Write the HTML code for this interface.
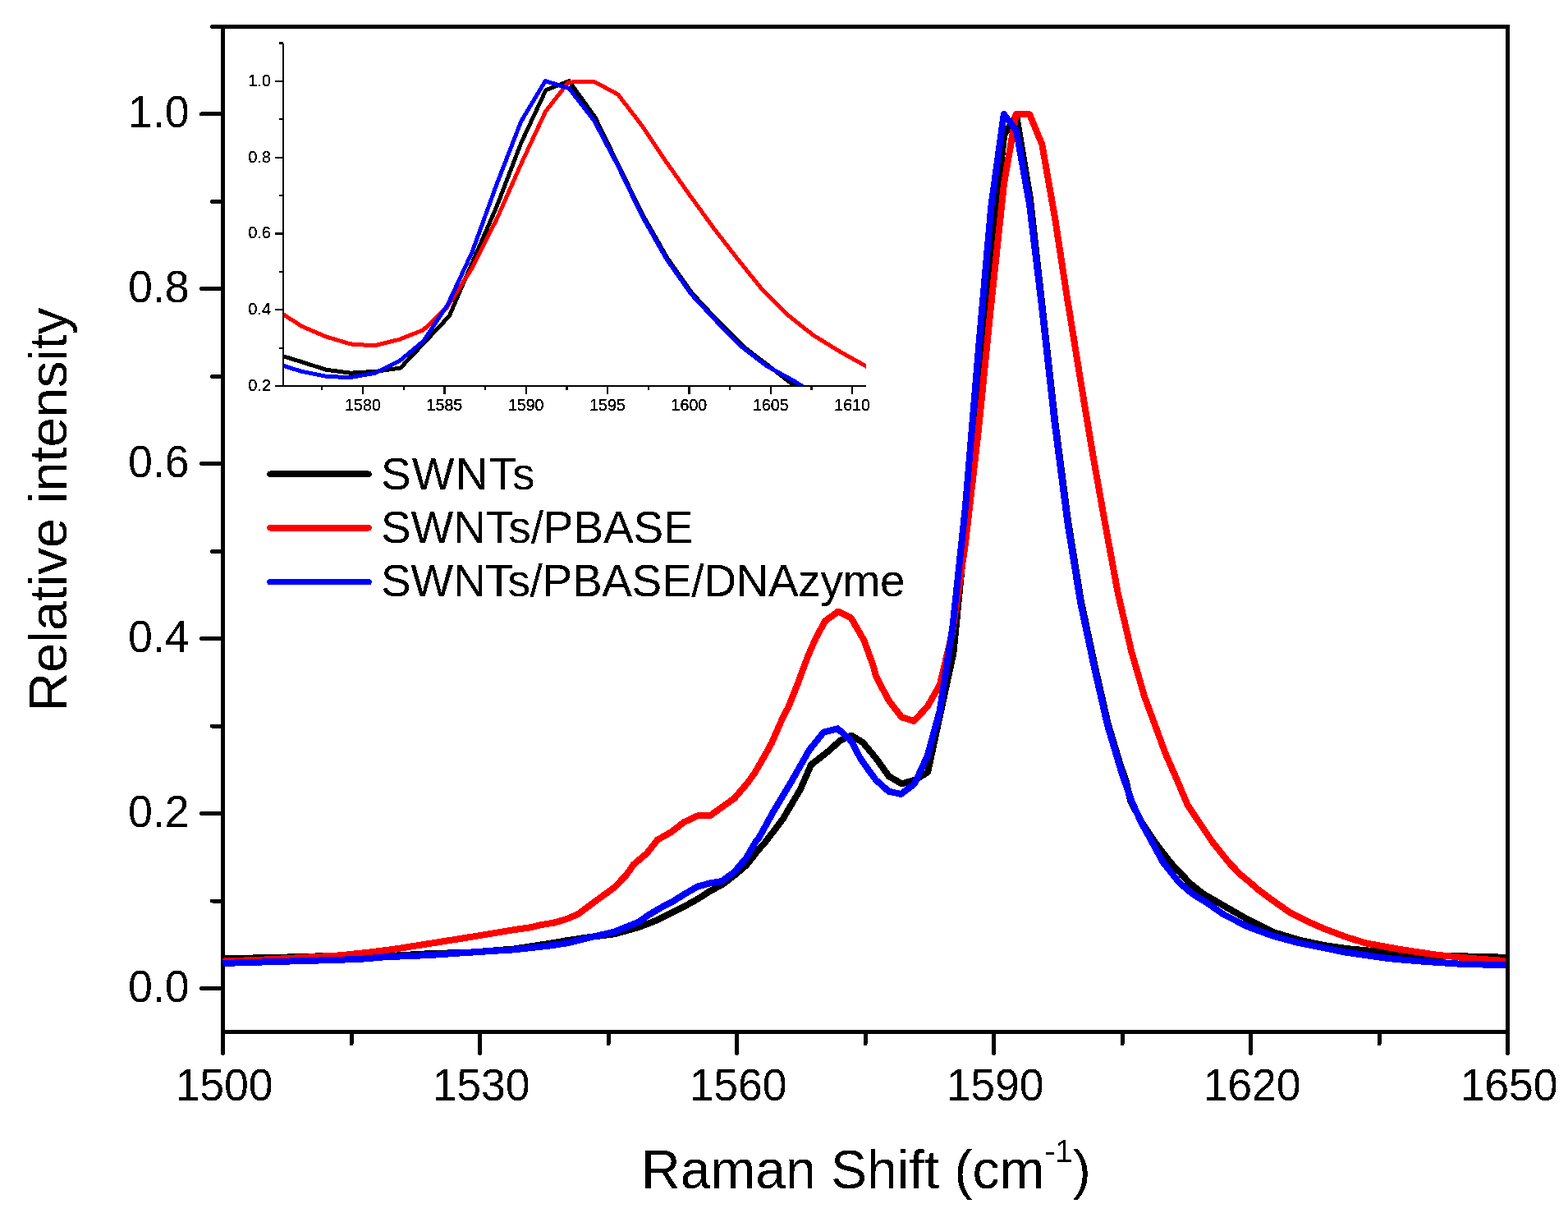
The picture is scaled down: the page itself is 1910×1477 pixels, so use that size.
<!DOCTYPE html>
<html><head><meta charset="utf-8"><title>Raman spectra</title>
<style>html,body{margin:0;padding:0;background:#fff;}svg{display:block;}text{font-family:"Liberation Sans",Arial,Helvetica,sans-serif;fill:#000;filter:url(#crisp);}</style></head><body>
<svg shape-rendering="crispEdges" width="1910" height="1477" viewBox="0 0 1910 1477">
<rect x="0" y="0" width="1910" height="1477" fill="#fff"/>
<defs>
<clipPath id="cm"><rect x="270" y="34.5" width="1564" height="1219.5"/></clipPath>
<clipPath id="ci"><rect x="345.0" y="42.5" width="710.0" height="427.5"/></clipPath>
<filter id="crisp" x="-5%" y="-5%" width="110%" height="110%" color-interpolation-filters="sRGB"><feComponentTransfer><feFuncA type="discrete" tableValues="0 1"/></feComponentTransfer></filter>
</defs>
<g clip-path="url(#ci)" fill="none" stroke-width="5" stroke-linejoin="round" stroke-linecap="butt">
<polyline stroke="#000" points="345.2,433.8 367.2,440.6 397.2,450.2 427.1,454.2 458.4,452.2 487.7,448.1 547.3,384.8 575.1,320.2 604.9,251.8 634.7,174.2 664.9,109.8 693.2,98.6 725.2,143.3 752.5,199.5 783.0,261.8 813.0,314.4 843.0,357.0 875.5,392.0 905.5,422.0 935.0,444.5 966.0,468.5 972.0,472.0"/>
<polyline stroke="#f00" points="345.2,382.8 367.2,397.1 397.2,410.0 427.1,418.9 455.7,420.9 486.3,413.4 515.6,401.8 544.2,374.5 575.1,326.5 604.9,267.2 634.7,199.8 664.5,135.8 692.4,100.1 723.7,99.4 752.8,115.0 782.7,153.9 810.2,195.2 840.3,237.8 870.3,279.1 898.5,315.4 928.8,353.0 960.5,384.3 990.6,408.1 1023.2,428.2 1056.0,446.5"/>
<polyline stroke="#00f" points="345.2,445.4 367.2,452.2 397.2,458.3 425.8,459.7 457.1,454.2 487.0,439.3 515.6,415.4 545.3,371.0 575.1,307.0 604.9,224.7 634.7,148.0 664.2,98.6 693.2,107.6 723.7,147.0 751.8,200.2 782.0,262.8 811.8,315.4 841.8,358.0 874.5,393.1 904.5,423.1 934.0,445.7 966.0,463.2 980.0,472.0"/>
</g>
<g stroke="#000" fill="none" stroke-linecap="round">
<rect x="271.5" y="32.0" width="1564.9" height="1224.5" stroke-width="5" stroke-linecap="butt"/>
<line x1="271.5" y1="1256.5" x2="271.5" y2="1282.5" stroke-width="5"/>
<line x1="428.0" y1="1256.5" x2="428.0" y2="1270.5" stroke-width="5"/>
<line x1="584.5" y1="1256.5" x2="584.5" y2="1282.5" stroke-width="5"/>
<line x1="741.0" y1="1256.5" x2="741.0" y2="1270.5" stroke-width="5"/>
<line x1="897.5" y1="1256.5" x2="897.5" y2="1282.5" stroke-width="5"/>
<line x1="1054.0" y1="1256.5" x2="1054.0" y2="1270.5" stroke-width="5"/>
<line x1="1210.5" y1="1256.5" x2="1210.5" y2="1282.5" stroke-width="5"/>
<line x1="1367.0" y1="1256.5" x2="1367.0" y2="1270.5" stroke-width="5"/>
<line x1="1523.5" y1="1256.5" x2="1523.5" y2="1282.5" stroke-width="5"/>
<line x1="1680.0" y1="1256.5" x2="1680.0" y2="1270.5" stroke-width="5"/>
<line x1="1836.5" y1="1256.5" x2="1836.5" y2="1282.5" stroke-width="5"/>
<line x1="271.5" y1="1203.5" x2="245.5" y2="1203.5" stroke-width="5"/>
<line x1="271.5" y1="1097.0" x2="258.5" y2="1097.0" stroke-width="5"/>
<line x1="271.5" y1="990.6" x2="245.5" y2="990.6" stroke-width="5"/>
<line x1="271.5" y1="884.1" x2="258.5" y2="884.1" stroke-width="5"/>
<line x1="271.5" y1="777.7" x2="245.5" y2="777.7" stroke-width="5"/>
<line x1="271.5" y1="671.2" x2="258.5" y2="671.2" stroke-width="5"/>
<line x1="271.5" y1="564.7" x2="245.5" y2="564.7" stroke-width="5"/>
<line x1="271.5" y1="458.3" x2="258.5" y2="458.3" stroke-width="5"/>
<line x1="271.5" y1="351.8" x2="245.5" y2="351.8" stroke-width="5"/>
<line x1="271.5" y1="245.4" x2="258.5" y2="245.4" stroke-width="5"/>
<line x1="271.5" y1="138.9" x2="245.5" y2="138.9" stroke-width="5"/>
<line x1="271.5" y1="32.4" x2="258.5" y2="32.4" stroke-width="5"/>
</g>
<g clip-path="url(#cm)" fill="none" stroke-width="8" stroke-linejoin="round" stroke-linecap="butt">
<polyline stroke="#000" points="271.5,1167.1 280.0,1167.1 332.4,1166.0 374.2,1164.8 395.2,1164.2 470.0,1164.3 522.4,1161.2 574.7,1159.6 627.0,1155.4 669.0,1148.9 689.3,1145.4 718.7,1141.0 748.0,1137.4 777.3,1129.3 799.3,1120.9 819.8,1110.5 834.7,1103.1 849.6,1094.9 864.5,1085.2 879.4,1077.4 894.2,1066.2 909.1,1053.6 924.0,1034.6 931.7,1026.0 953.3,997.8 975.0,961.0 988.0,931.2 1007.5,916.0 1023.8,901.4 1036.8,895.5 1051.0,904.0 1060.2,915.0 1066.9,923.1 1082.6,945.1 1098.3,954.3 1114.8,949.7 1130.1,940.3 1161.4,795.1 1176.0,646.8 1191.7,489.8 1207.3,311.8 1223.2,164.0 1238.0,140.8 1254.8,240.8 1269.2,369.8 1285.2,512.8 1300.9,633.5 1316.7,731.3 1333.8,811.6 1349.5,880.4 1365.0,932.1 1371.5,950.0 1377.0,975.0 1390.0,1000.0 1406.5,1025.0 1425.5,1050.0 1449.0,1075.0 1465.0,1088.0 1482.4,1098.0 1490.5,1102.8 1521.0,1120.1 1551.4,1135.2 1581.9,1144.4 1612.4,1151.0 1639.8,1155.0 1692.0,1159.9 1736.0,1163.6 1780.0,1164.3 1836.4,1165.8"/>
<polyline stroke="#f00" points="271.5,1170.6 280.0,1170.2 332.4,1168.1 384.7,1165.0 416.0,1163.2 447.5,1159.8 479.0,1155.9 522.4,1149.1 574.7,1140.7 627.0,1132.0 645.7,1129.3 660.0,1126.0 674.7,1123.6 689.3,1119.4 704.0,1113.2 718.7,1102.2 733.3,1091.5 748.0,1080.9 762.6,1065.9 772.0,1052.5 788.0,1039.0 801.0,1022.5 817.1,1013.5 833.4,1001.0 849.7,993.4 864.7,993.4 877.0,984.6 894.7,972.0 910.0,954.0 919.2,941.4 931.7,919.8 940.0,904.6 953.3,874.3 960.0,861.6 972.2,831.1 984.4,798.2 994.1,776.3 1005.1,756.2 1020.9,744.6 1036.8,752.5 1052.6,780.0 1063.6,810.4 1066.9,823.3 1082.6,852.9 1098.3,873.3 1113.3,877.9 1129.4,860.7 1144.8,834.1 1159.8,771.4 1176.0,661.3 1191.7,525.2 1207.3,370.5 1223.0,223.6 1237.6,139.2 1254.1,139.2 1269.3,175.9 1285.0,265.2 1299.5,359.9 1315.3,457.7 1331.0,552.5 1345.8,635.8 1361.7,722.1 1378.4,793.9 1394.2,848.5 1411.3,894.7 1419.7,917.7 1433.9,950.0 1446.5,980.0 1460.0,1000.0 1476.7,1025.0 1496.7,1050.0 1510.8,1064.7 1523.2,1075.0 1531.1,1082.0 1551.4,1097.2 1571.7,1111.4 1592.1,1121.6 1612.4,1130.7 1639.8,1140.9 1662.6,1148.2 1706.6,1156.2 1750.6,1162.8 1794.6,1167.2 1836.4,1170.2"/>
<polyline stroke="#00f" points="271.5,1173.0 280.0,1172.7 332.4,1171.1 384.7,1169.6 437.0,1168.0 470.0,1165.2 522.4,1163.1 574.7,1159.5 627.0,1156.3 669.0,1151.6 690.0,1148.5 718.7,1141.5 748.0,1134.8 777.3,1123.0 790.0,1114.2 804.9,1105.3 819.8,1097.5 834.7,1088.2 849.6,1079.6 864.5,1075.5 879.4,1072.9 894.2,1062.1 909.1,1044.6 920.8,1024.5 924.0,1021.0 942.5,987.5 964.2,951.3 985.8,913.3 1003.2,891.7 1020.5,887.3 1034.6,899.8 1039.1,905.8 1047.4,922.3 1057.4,936.9 1066.9,949.7 1082.6,963.7 1097.6,966.9 1114.1,954.3 1129.8,920.1 1144.8,865.3 1160.4,763.4 1176.0,616.5 1191.7,427.6 1207.3,251.6 1222.8,139.0 1238.0,158.9 1254.1,249.3 1268.8,371.4 1284.7,515.1 1300.3,635.8 1316.1,733.6 1333.2,814.1 1349.0,882.9 1364.5,934.8 1369.5,950.0 1378.3,975.0 1389.4,1000.0 1403.1,1025.0 1416.7,1050.0 1436.8,1075.0 1452.0,1088.0 1470.5,1099.5 1490.5,1113.5 1521.0,1128.8 1551.4,1139.9 1581.9,1148.1 1612.4,1154.2 1639.8,1159.7 1692.0,1167.2 1736.0,1170.9 1780.0,1173.8 1836.4,1175.3"/>
</g>
<text transform="translate(273.0,1340.3) scale(0.975,1)" font-size="55" text-anchor="middle">1500</text>
<text transform="translate(586.0,1340.3) scale(0.975,1)" font-size="55" text-anchor="middle">1530</text>
<text transform="translate(899.0,1340.3) scale(0.975,1)" font-size="55" text-anchor="middle">1560</text>
<text transform="translate(1212.0,1340.3) scale(0.975,1)" font-size="55" text-anchor="middle">1590</text>
<text transform="translate(1525.0,1340.3) scale(0.975,1)" font-size="55" text-anchor="middle">1620</text>
<text transform="translate(1838.0,1340.3) scale(0.975,1)" font-size="55" text-anchor="middle">1650</text>
<text transform="translate(230.5,1219.7) scale(0.975,1)" font-size="55" text-anchor="end">0.0</text>
<text transform="translate(230.5,1006.8) scale(0.975,1)" font-size="55" text-anchor="end">0.2</text>
<text transform="translate(230.5,793.9) scale(0.975,1)" font-size="55" text-anchor="end">0.4</text>
<text transform="translate(230.5,580.9) scale(0.975,1)" font-size="55" text-anchor="end">0.6</text>
<text transform="translate(230.5,368.0) scale(0.975,1)" font-size="55" text-anchor="end">0.8</text>
<text transform="translate(230.5,155.1) scale(0.975,1)" font-size="55" text-anchor="end">1.0</text>
<g stroke="#000" fill="none" stroke-linecap="butt">
<path d="M345.0,52.5 V470.0 H1055.0" stroke-width="2.2"/>
<line x1="392.3" y1="470.0" x2="392.3" y2="475.0" stroke-width="2.2"/>
<line x1="442.0" y1="470.0" x2="442.0" y2="479.5" stroke-width="2.2"/>
<line x1="491.7" y1="470.0" x2="491.7" y2="475.0" stroke-width="2.2"/>
<line x1="541.4" y1="470.0" x2="541.4" y2="479.5" stroke-width="2.2"/>
<line x1="591.0" y1="470.0" x2="591.0" y2="475.0" stroke-width="2.2"/>
<line x1="640.7" y1="470.0" x2="640.7" y2="479.5" stroke-width="2.2"/>
<line x1="690.4" y1="470.0" x2="690.4" y2="475.0" stroke-width="2.2"/>
<line x1="740.0" y1="470.0" x2="740.0" y2="479.5" stroke-width="2.2"/>
<line x1="789.7" y1="470.0" x2="789.7" y2="475.0" stroke-width="2.2"/>
<line x1="839.4" y1="470.0" x2="839.4" y2="479.5" stroke-width="2.2"/>
<line x1="889.1" y1="470.0" x2="889.1" y2="475.0" stroke-width="2.2"/>
<line x1="938.8" y1="470.0" x2="938.8" y2="479.5" stroke-width="2.2"/>
<line x1="988.4" y1="470.0" x2="988.4" y2="475.0" stroke-width="2.2"/>
<line x1="1038.1" y1="470.0" x2="1038.1" y2="479.5" stroke-width="2.2"/>
<line x1="345.0" y1="470.0" x2="335.0" y2="470.0" stroke-width="2.2"/>
<line x1="345.0" y1="423.6" x2="340.0" y2="423.6" stroke-width="2.2"/>
<line x1="345.0" y1="377.2" x2="335.0" y2="377.2" stroke-width="2.2"/>
<line x1="345.0" y1="330.8" x2="340.0" y2="330.8" stroke-width="2.2"/>
<line x1="345.0" y1="284.4" x2="335.0" y2="284.4" stroke-width="2.2"/>
<line x1="345.0" y1="238.1" x2="340.0" y2="238.1" stroke-width="2.2"/>
<line x1="345.0" y1="191.7" x2="335.0" y2="191.7" stroke-width="2.2"/>
<line x1="345.0" y1="145.3" x2="340.0" y2="145.3" stroke-width="2.2"/>
<line x1="345.0" y1="98.9" x2="335.0" y2="98.9" stroke-width="2.2"/>
<line x1="345.0" y1="52.5" x2="340.0" y2="52.5" stroke-width="2.2"/>
</g>
<text x="442.0" y="500" font-size="19.6" text-anchor="middle" stroke="#000" stroke-width="0.35">1580</text>
<text x="541.4" y="500" font-size="19.6" text-anchor="middle" stroke="#000" stroke-width="0.35">1585</text>
<text x="640.7" y="500" font-size="19.6" text-anchor="middle" stroke="#000" stroke-width="0.35">1590</text>
<text x="740.0" y="500" font-size="19.6" text-anchor="middle" stroke="#000" stroke-width="0.35">1595</text>
<text x="839.4" y="500" font-size="19.6" text-anchor="middle" stroke="#000" stroke-width="0.35">1600</text>
<text x="938.8" y="500" font-size="19.6" text-anchor="middle" stroke="#000" stroke-width="0.35">1605</text>
<text x="1038.1" y="500" font-size="19.6" text-anchor="middle" stroke="#000" stroke-width="0.35">1610</text>
<text x="329.8" y="476.0" font-size="19.6" text-anchor="end" stroke="#000" stroke-width="0.35">0.2</text>
<text x="329.8" y="383.2" font-size="19.6" text-anchor="end" stroke="#000" stroke-width="0.35">0.4</text>
<text x="329.8" y="290.4" font-size="19.6" text-anchor="end" stroke="#000" stroke-width="0.35">0.6</text>
<text x="329.8" y="197.7" font-size="19.6" text-anchor="end" stroke="#000" stroke-width="0.35">0.8</text>
<text x="329.8" y="104.9" font-size="19.6" text-anchor="end" stroke="#000" stroke-width="0.35">1.0</text>
<line x1="329" y1="577.2" x2="449" y2="577.2" stroke="#000" stroke-width="7.5" stroke-linecap="round"/>
<text x="464" y="596.1" font-size="55" textLength="187.5" lengthAdjust="spacing">SWNTs</text>
<line x1="329" y1="642.8" x2="449" y2="642.8" stroke="#f00" stroke-width="7.5" stroke-linecap="round"/>
<text x="464" y="661.0" font-size="55" textLength="380.8" lengthAdjust="spacing">SWNTs/PBASE</text>
<line x1="329" y1="708.5" x2="449" y2="708.5" stroke="#00f" stroke-width="7.5" stroke-linecap="round"/>
<text x="464" y="726.4" font-size="55" textLength="638.7" lengthAdjust="spacing">SWNTs/PBASE/DNAzyme</text>
<text x="781" y="1447" font-size="66">Raman Shift (cm<tspan font-size="38.5" dy="-32">-1</tspan><tspan dy="32">)</tspan></text>
<text transform="translate(81,866) rotate(-90)" x="0" y="0" font-size="65.5" textLength="491.4" lengthAdjust="spacing">Relative intensity</text>
</svg></body></html>
